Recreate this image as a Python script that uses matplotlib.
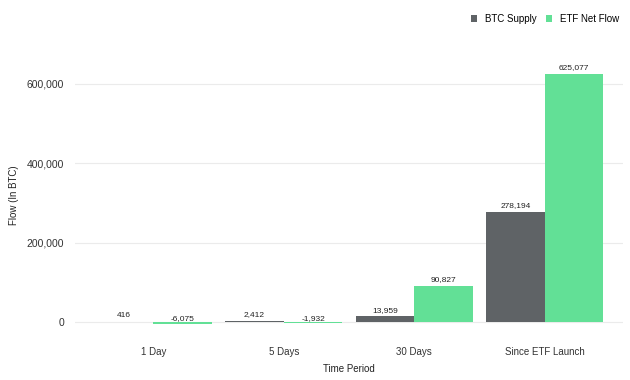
import matplotlib
matplotlib.use("Agg")
import matplotlib.pyplot as plt
import numpy as np

# data
periods = ["1 Day", "5 Days", "30 Days", "Since ETF Launch"]
btc_supply = [416, 2412, 13959, 278194]
etf_flow = [-6075, -1932, 90827, 625077]
btc_labels = ["416", "2,412", "13,959", "278,194"]
etf_labels = ["-6,075", "-1,932", "90,827", "625,077"]
yticks = [0, 200000, 400000, 600000]

c_btc = "#5f6366"
c_etf = "#62e096"

plt.rcParams["font.family"] = ["Liberation Sans", "DejaVu Sans"]

fig = plt.figure(figsize=(6.3, 3.8), dpi=100)
# axes box in pixels: left 75, right 623, top 40, bottom 330
ax = fig.add_axes([75/630, 50/380, 548/630, 290/380])

x = np.arange(len(periods))
w = 0.45
ax.bar(x - w/2, btc_supply, w, color=c_btc, label="BTC Supply")
ax.bar(x + w/2, etf_flow, w, color=c_etf, label="ETF Net Flow")

for i in range(len(periods)):
    ax.annotate(btc_labels[i], (x[i] - w/2, max(btc_supply[i], 0)),
                xytext=(0, 2), textcoords="offset points",
                ha="center", va="bottom", fontsize=6, color="#222222")
    ax.annotate(etf_labels[i], (x[i] + w/2, max(etf_flow[i], 0)),
                xytext=(0, 2 if etf_flow[i] >= 0 else 0), textcoords="offset points",
                ha="center", va="bottom", fontsize=6, color="#222222")

ax.set_xlim(-0.6, 3.6)
ax.set_ylim(-20170, 710900)
ax.set_yticks(yticks)
ax.set_yticklabels([f"{v:,}" for v in yticks])
ax.set_xticks(x)
ax.set_xticklabels(periods)
ax.tick_params(axis="both", length=0, labelsize=7, colors="#333333")
ax.tick_params(axis="y", pad=8, labelsize=7.5)
ax.tick_params(axis="x", pad=12)
ax.yaxis.grid(True, color="#ebebeb", linewidth=0.8)
ax.set_axisbelow(True)
for s in ax.spines.values():
    s.set_visible(False)

ax.set_xlabel("Time Period", fontsize=7, color="#222222", labelpad=5)
ax.set_ylabel("Flow (In BTC)", fontsize=7, color="#222222")
ax.yaxis.set_label_coords(-0.102, 0.466)

ax.legend(loc="upper right", bbox_to_anchor=(623/630, 370/380), bbox_transform=fig.transFigure,
          ncol=2, frameon=False, fontsize=7, handlelength=0.6, handleheight=0.6,
          handletextpad=0.8, columnspacing=1.0, borderaxespad=0)

fig.savefig("out.png", dpi=100)
